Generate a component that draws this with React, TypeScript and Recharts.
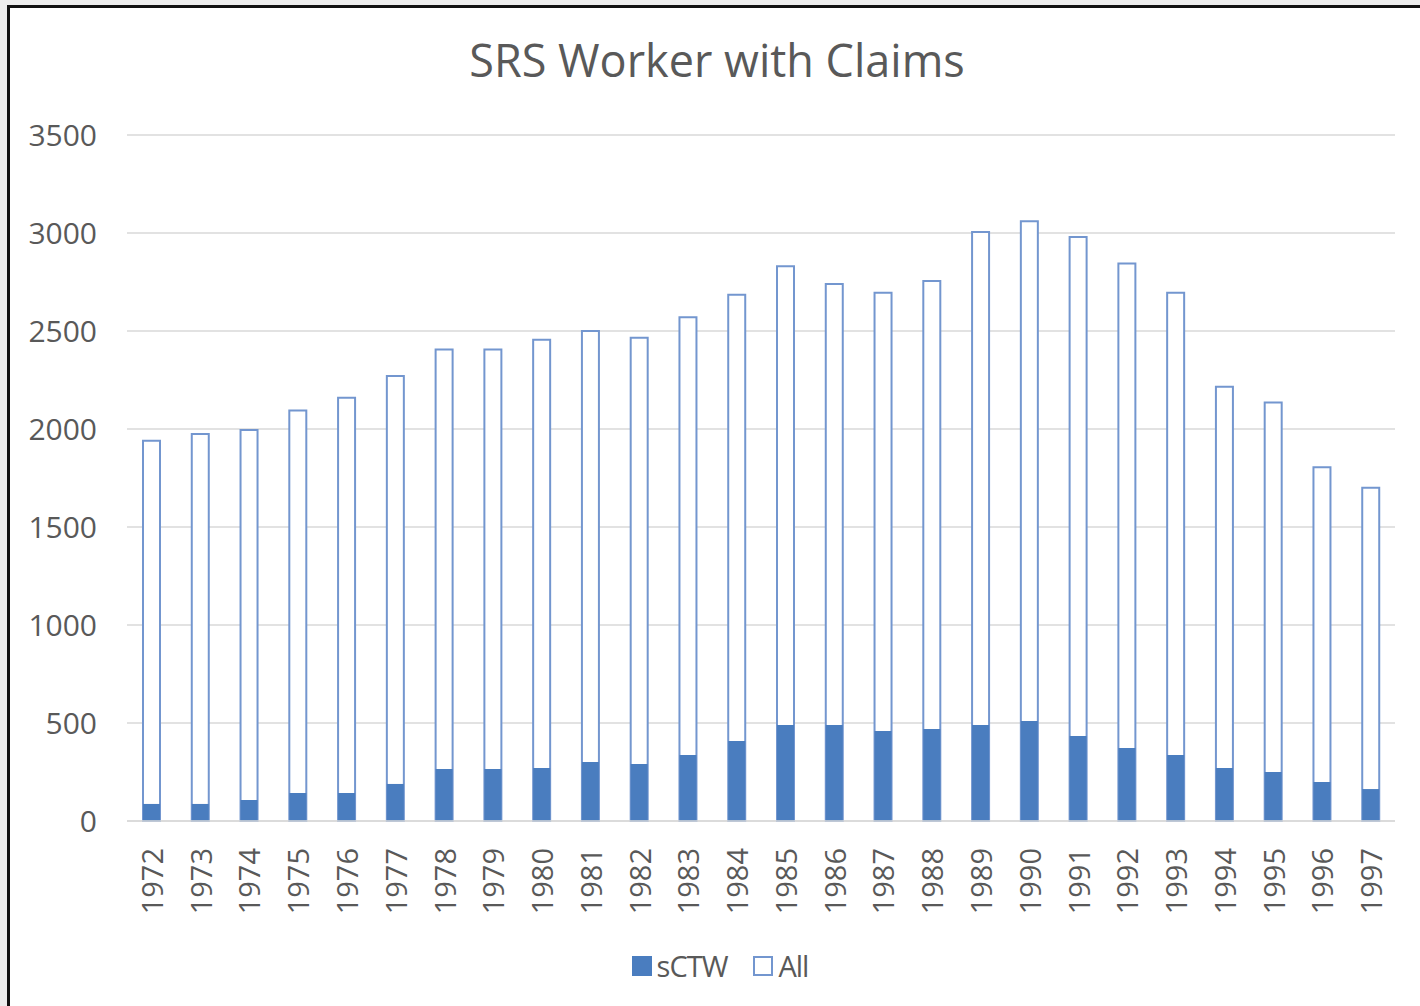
import { Bar, BarChart, CartesianGrid, XAxis, YAxis } from "recharts";

const years = [
  "1972", "1973", "1974", "1975", "1976", "1977", "1978", "1979", "1980",
  "1981", "1982", "1983", "1984", "1985", "1986", "1987", "1988", "1989",
  "1990", "1991", "1992", "1993", "1994", "1995", "1996", "1997",
];
const allClaims = [
  1940, 1975, 1995, 2095, 2160, 2270, 2405, 2405, 2455, 2500, 2465, 2570, 2685,
  2830, 2740, 2695, 2755, 3005, 3060, 2980, 2845, 2695, 2215, 2135, 1805, 1700,
];
const sctwClaims = [
  87, 87, 107, 143, 143, 189, 265, 265, 270, 301, 291, 337, 408, 490, 490, 459,
  469, 490, 510, 434, 372, 337, 270, 250, 199, 163,
];
const yTicks = [0, 500, 1000, 1500, 2000, 2500, 3000, 3500];

const data = years.map((name, i) => ({ name, all: allClaims[i], sctw: sctwClaims[i] }));

const FONT = "'Open Sans', sans-serif";
const GRAY = "#595959";
const BLUE = "#4a7dbf";
const OUTLINE = "#7396cf";

function YearTick({ x, y, payload }: any) {
  return (
    <text
      x={x}
      y={y + 19}
      transform={`rotate(-90, ${x}, ${y + 19})`}
      textAnchor="end"
      dominantBaseline="central"
      fill={GRAY}
      fontSize={29}
      fontFamily={FONT}
    >
      {payload.value}
    </text>
  );
}

function LegendBox() {
  return (
    <div
      style={{
        position: "absolute",
        top: 946,
        left: 10,
        width: 1420,
        display: "flex",
        justifyContent: "center",
        alignItems: "center",
        fontFamily: FONT,
        fontSize: 29,
        color: GRAY,
        letterSpacing: -1,
      }}
    >
      <span style={{ width: 20, height: 20, background: BLUE, marginRight: 5 }} />
      <span style={{ marginRight: 26 }}>sCTW</span>
      <span
        style={{ width: 16, height: 16, border: `2px solid ${OUTLINE}`, background: "#fff", marginRight: 5 }}
      />
      <span>All</span>
    </div>
  );
}

export default function App() {
  return (
    <div style={{ position: "absolute", left: 0, top: 0, width: 1420, height: 1006, background: "#ececec" }}>
      <div
        style={{
          position: "absolute",
          left: 7,
          top: 5,
          width: 1413,
          height: 1001,
          background: "#fff",
          borderLeft: "3px solid #111",
          borderTop: "3px solid #111",
          boxSizing: "border-box",
        }}
      />
      <div
        style={{
          position: "absolute",
          top: 29,
          left: 0,
          width: 1434,
          textAlign: "center",
          fontFamily: FONT,
          fontSize: 45,
          color: GRAY,
        }}
      >
        SRS Worker with Claims
      </div>
      <div style={{ position: "absolute", left: 0, top: 0 }}>
        <BarChart
          width={1420}
          height={1006}
          data={data}
          margin={{ top: 135, right: 25, bottom: 85, left: 27 }}
          barCategoryGap={0}
        >
          <CartesianGrid vertical={false} stroke="#d9d9d9" strokeWidth={1.5} />
          <XAxis
            xAxisId="a"
            dataKey="name"
            tick={<YearTick />}
            tickLine={false}
            axisLine={{ stroke: "#d9d9d9", strokeWidth: 1.5 }}
            interval={0}
            height={100}
          />
          <XAxis xAxisId="b" dataKey="name" hide />
          <YAxis
            domain={[0, 3500]}
            ticks={yTicks}
            width={100}
            axisLine={false}
            tickLine={false}
            tickSize={0}
            tickMargin={30}
            tick={{ fill: GRAY, fontSize: 30, fontFamily: FONT }}
          />
          <Bar
            xAxisId="a"
            dataKey="all"
            name="All"
            fill="#fff"
            stroke={OUTLINE}
            strokeWidth={2}
            barSize={17}
            isAnimationActive={false}
          />
          <Bar
            xAxisId="b"
            dataKey="sctw"
            name="sCTW"
            fill={BLUE}
            barSize={17}
            isAnimationActive={false}
          />
        </BarChart>
      </div>
      <LegendBox />
    </div>
  );
}
